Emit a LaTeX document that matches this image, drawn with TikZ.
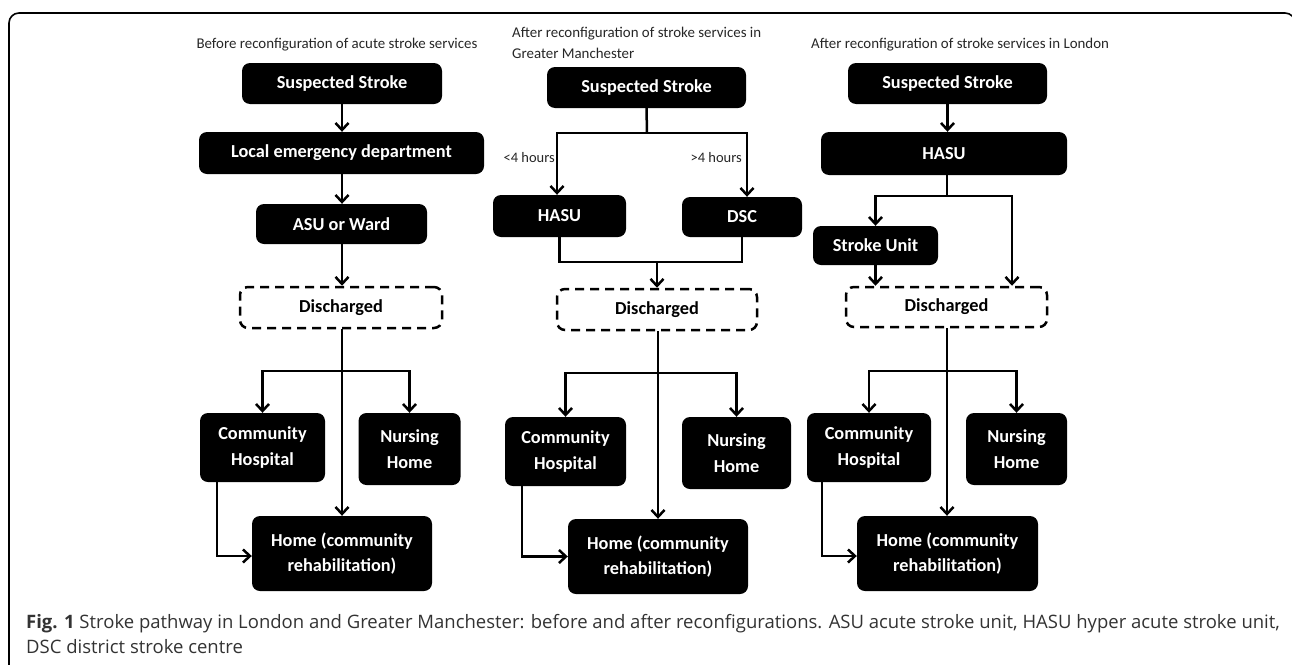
\documentclass[tikz,border=0pt]{standalone}
\usepackage{fontspec}
\setmainfont{Carlito}
\newfontfamily\capfont{Open Sans}
\usetikzlibrary{arrows.meta}
\definecolor{captxt}{HTML}{333333}
\tikzset{
  box/.style={rectangle, rounded corners=8pt, fill=black, text=white, font=\fontsize{18.3}{25.5}\selectfont\bfseries, align=center, inner sep=0pt},
  dbox/.style={rectangle, rounded corners=8pt, draw=black, line width=2.5pt, dash pattern=on 9pt off 6pt, text=black, font=\fontsize{18.3}{25.5}\selectfont\bfseries, inner sep=0pt},
  arr/.style={line width=2.5pt, -{Straight Barb[length=7pt,width=13pt,line width=2.5pt]}},
  ln/.style={line width=2.5pt},
  ttl/.style={font=\fontsize{14.9}{21}\selectfont, text=black!85, inner sep=0pt},
  lbl/.style={font=\fontsize{14.5}{16}\selectfont, text=black!85, inner sep=0pt}
}
\begin{document}
\begin{tikzpicture}[x=1pt,y=-1pt]
\useasboundingbox (0,0) rectangle (1292,664);
\clip (0,0) rectangle (1292,664);
% frame
\draw[line width=1.6pt, rounded corners=10pt] (9,700) -- (9,13) -- (1295,13) -- (1295,60);

% ---------- Column 1 ----------
\node[ttl] (t1) at (337,45) {Before reconfiguration of acute stroke services};
\node[box, minimum width=200pt, minimum height=41pt] (s1) at (342,83.5) {Suspected Stroke};
\node[box, minimum width=285pt, minimum height=42pt] (l1) at (341.5,153) {Local emergency department};
\node[box, minimum width=171pt, minimum height=40pt] (a1) at (341.5,224) {ASU or Ward};
\node[dbox, minimum width=202pt, minimum height=41pt] (d1) at (341,307.5) {Discharged};
\node[box, minimum width=125pt, minimum height=69pt] (ch1) at (262.5,447.5) {Community\\Hospital};
\node[box, minimum width=102pt, minimum height=72pt] (nh1) at (409.5,449) {Nursing\\Home};
\node[box, minimum width=180pt, minimum height=75pt] (h1) at (342,553.5) {Home (community\\rehabilitation)};
\coordinate (b1) at (342,371);
\draw[arr] (s1.south) -- (s1.south |- l1.north);
\draw[arr] (s1.south |- l1.south) -- (s1.south |- a1.north);
\draw[arr] (s1.south |- a1.south) -- (s1.south |- d1.north);
\draw[arr] (s1.south |- d1.south) -- (s1.south |- h1.north);
\draw[arr] (b1) -| (ch1.north);
\draw[arr] (b1) -| (nh1.north);
\draw[arr] ([xshift=-45.5pt]ch1.south) |- ([yshift=-2.5pt]h1.west);

% ---------- Column 2 ----------
\node[ttl, anchor=north west, align=left] (t2) at (512,27) {After reconfiguration of stroke services in\\Greater Manchester};
\node[box, minimum width=199pt, minimum height=41pt] (s2) at (646.5,87.5) {Suspected Stroke};
\node[box, minimum width=133pt, minimum height=42pt] (hasu2) at (559.5,216) {HASU};
\node[box, minimum width=120pt, minimum height=40pt] (dsc2) at (742,217) {DSC};
\node[lbl, anchor=east] (lt) at (555,158) {<4 hours};
\node[lbl, anchor=east] (gt) at (742,158) {>4 hours};
\node[dbox, minimum width=200pt, minimum height=41pt] (d2) at (657,309.5) {Discharged};
\node[box, minimum width=121pt, minimum height=69pt] (ch2) at (565.5,451.5) {Community\\Hospital};
\node[box, minimum width=109pt, minimum height=72pt] (nh2) at (736.5,453) {Nursing\\Home};
\node[box, minimum width=180pt, minimum height=75pt] (h2) at (658,556.5) {Home (community\\rehabilitation)};
\coordinate (b2a) at (647,133);
\coordinate (m2) at (657,262);
\coordinate (b2b) at (658,373);
\draw[ln] (s2.south) -- (b2a);
\draw[arr] (b2a) -| ([xshift=-2.5pt]hasu2.north);
\draw[arr] (b2a) -| ([xshift=5pt]dsc2.north);
\draw[ln] (hasu2.south) |- (m2) -| (dsc2.south);
\draw[arr] (m2) -- (d2.north);
\draw[arr] (d2.south -| h2.north) -- (h2.north);
\draw[arr] (b2b) -| (ch2.north);
\draw[arr] (b2b) -| (nh2.north);
\draw[arr] ([xshift=-43.5pt]ch2.south) |- (h2.west);

% ---------- Column 3 ----------
\node[ttl, anchor=west] (t3) at (811,45) {After reconfiguration of stroke services in London};
\node[box, minimum width=199pt, minimum height=41pt] (s3) at (947.5,83.5) {Suspected Stroke};
\node[box, minimum width=246pt, minimum height=43pt] (hasu3) at (944,153.5) {HASU};
\node[box, minimum width=125pt, minimum height=39pt] (su3) at (875.5,245.5) {Stroke Unit};
\node[dbox, minimum width=201pt, minimum height=40pt] (d3) at (946.5,307) {Discharged};
\node[box, minimum width=124pt, minimum height=69pt] (ch3) at (869,447.5) {Community\\Hospital};
\node[box, minimum width=101pt, minimum height=72pt] (nh3) at (1016.5,449) {Nursing\\Home};
\node[box, minimum width=181pt, minimum height=75pt] (h3) at (947.5,553.5) {Home (community\\rehabilitation)};
\coordinate (b3a) at (947,196);
\coordinate (b3b) at (947,371);
\draw[arr] (s3.south) -- (s3.south |- hasu3.north);
\draw[ln] (b3a |- hasu3.south) -- (b3a);
\draw[arr] (b3a) -| (su3.north);
\draw[arr] (b3a) -| ([xshift=65.5pt]d3.north);
\draw[arr] (su3.south) -- (su3.south |- d3.north);
\draw[arr] (b3b |- d3.south) -- (b3b |- h3.north);
\draw[arr] (b3b) -| (ch3.north);
\draw[arr] (b3b) -| (nh3.north);
\draw[arr] ([xshift=-47pt]ch3.south) |- ([yshift=-2.5pt]h3.west);

% ---------- Caption ----------
\node[anchor=base west, inner sep=0pt, text=captxt, font=\capfont\fontsize{18.5}{25}\selectfont, align=left] (cap) at (26,653)
  {{\bfseries Fig. 1} Stroke pathway in London and Greater Manchester: before and after reconfigurations. ASU acute stroke unit, HASU hyper acute stroke unit,\\DSC district stroke centre};
\end{tikzpicture}
\end{document}
